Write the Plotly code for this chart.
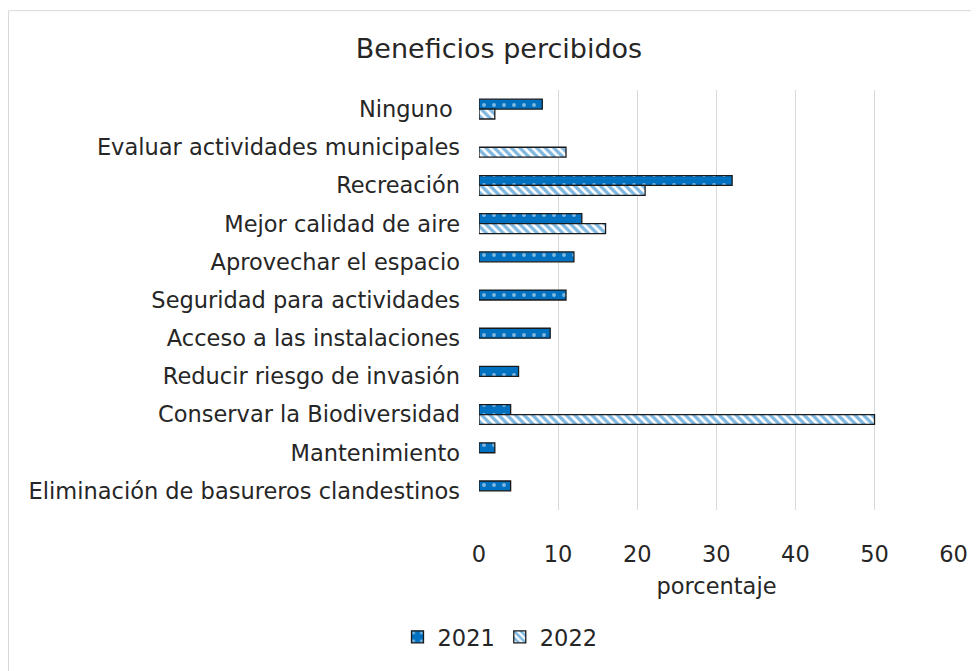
import plotly.graph_objects as go

categories = ["Ninguno ", "Evaluar actividades municipales", "Recreación", "Mejor calidad de aire",
              "Aprovechar el espacio", "Seguridad para actividades", "Acceso a las instalaciones",
              "Reducir riesgo de invasión", "Conservar la Biodiversidad", "Mantenimiento",
              "Eliminación de basureros clandestinos"]
v2021 = [8, None, 32, 13, 12, 11, 9, 5, 4, 2, 4]
v2022 = [2, 11, 21, 16, None, None, None, None, 50, None, None]
xticks = [0, 10, 20, 30, 40, 50, 60]

BLUE = "#0070C0"
FONT = "DejaVu Sans"
TXT = "#262626"

fig = go.Figure()
fig.add_trace(go.Bar(
    y=categories, x=v2021, orientation="h", name="2021",
    marker=dict(color=BLUE, line=dict(color="#1a1a1a", width=1.3),
                pattern=dict(shape=".", fgcolor="white", bgcolor=BLUE, size=10, solidity=0.12)),
))
fig.add_trace(go.Bar(
    y=categories, x=v2022, orientation="h", name="2022",
    marker=dict(color="white", line=dict(color="#1a1a1a", width=1.3),
                pattern=dict(shape="\\", fgcolor=BLUE, bgcolor="white", size=6, solidity=0.55)),
))

# page is drawn with an 8px body offset; target positions below are in figure coords
OFF = 8
L, R = 479 - OFF, 954 - OFF
T, B = 89.5 - OFF, 510.5 - OFF
W, H = 979, 671
PW, PH = R - L, B - T
def px(x): return (x - L) / PW
def py(y): return (B - y) / PH

fig.update_layout(
    width=W, height=H,
    margin=dict(l=L, r=W - R, t=T, b=H - B, autoexpand=False),
    paper_bgcolor="white", plot_bgcolor="white",
    font=dict(family=FONT, size=22, color=TXT),
    title=dict(text="Beneficios percibidos", x=(499 - OFF) / W, xref="container", xanchor="center",
               y=1 - (49 - OFF) / H, yref="container", yanchor="middle", font=dict(size=27, color=TXT)),
    barmode="group", bargap=0.48, bargroupgap=0.0,
    showlegend=True,
    legend=dict(orientation="h", x=px(500 - OFF), xanchor="center", y=py(638 - OFF), yanchor="middle",
                font=dict(size=22.5, color=TXT), itemwidth=30, traceorder="normal",
                tracegroupgap=0),
    shapes=[dict(type="rect", xref="paper", yref="paper",
                 x0=px(0.5), x1=px(W + 5), y0=py(H + 5), y1=py(9 - OFF + 1),
                 line=dict(color="#D9D9D9", width=1), fillcolor="rgba(0,0,0,0)", layer="below")],
)
fig.update_xaxes(range=[0, 60.05], tickvals=xticks, showgrid=True, gridcolor="#D9D9D9", gridwidth=1,
                 zeroline=False, showline=False, ticks="", ticklabelstandoff=28, automargin=False,
                 title=dict(text="porcentaje", standoff=12, font=dict(size=22.5, color=TXT)),
                 tickfont=dict(size=22.5, color=TXT))
fig.update_yaxes(categoryorder="array", categoryarray=categories, autorange="reversed",
                 showgrid=False, zeroline=False, showline=False, ticks="", ticklabelstandoff=18,
                 automargin=False, tickfont=dict(size=22.5, color=TXT))

fig.write_html("out.html")
